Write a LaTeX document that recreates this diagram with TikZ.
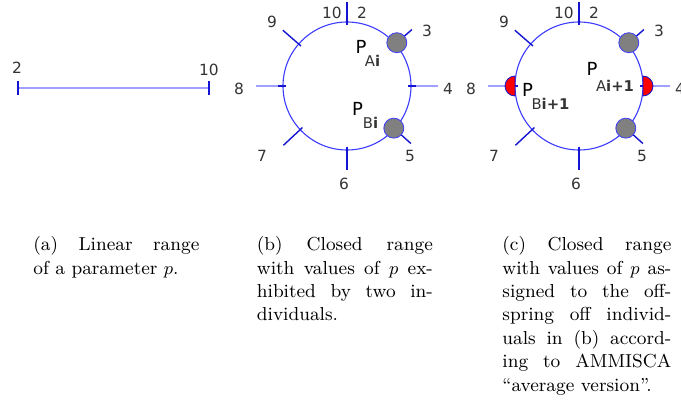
\documentclass[tikz,border=0pt]{standalone}
\usepackage{fontspec}
\newfontfamily\lblfont{DejaVu Sans}
\usepackage{tikz}

\definecolor{ringblue}{RGB}{60,60,255}
\definecolor{tickblue}{RGB}{20,20,210}
\definecolor{lineblue}{RGB}{160,160,255}
\definecolor{dotgray}{RGB}{128,128,128}
\definecolor{numgray}{RGB}{51,51,51}
\definecolor{halfred}{RGB}{255,0,0}

% one stretched caption line
\newcommand{\jline}[2]{\makebox[#1][s]{#2}}

\begin{document}
\begin{tikzpicture}[
  x=0.5pt, y=0.5pt,
  ring/.style={draw=ringblue, line width=0.55pt},
  tickmark/.style={draw=tickblue, line width=0.7pt},
  tickfaint/.style={draw=lineblue, line width=0.7pt},
  num/.style={inner sep=0pt, text=numgray, font=\lblfont\fontsize{7.7}{9}\selectfont},
  pbig/.style={inner sep=0pt, text=black, font=\lblfont\fontsize{9}{10}\selectfont},
  psub/.style={inner sep=0pt, text=numgray, font=\lblfont\fontsize{7.4}{9}\selectfont},
  valdot/.style={circle, fill=dotgray, draw=ringblue, line width=0.4pt, minimum size=10pt, inner sep=0pt},
  halfdisk/.style={fill=halfred, draw=tickblue, line width=0.4pt},
  capt/.style={anchor=base west, inner sep=0pt, align=left, font=\fontsize{9.4}{11.7}\selectfont}
]
\useasboundingbox (0,0) rectangle (681,-406);

% (a) linear range
\coordinate (lo) at (18,-88);
\coordinate (hi) at (209,-88);
\draw[lineblue, line width=1pt] (lo) -- (hi);
\draw[tickmark] ([yshift=-3.5pt]lo) -- ([yshift=3.5pt]lo);
\draw[tickmark] ([yshift=-3.5pt]hi) -- ([yshift=3.5pt]hi);
\node[num] (a2)  at (17,-68)  {2};
\node[num] (a10) at (209,-70) {10};

% (b) and (c) closed ranges
\foreach \cx/\tag in {347/b, 579/c} {
  \begin{scope}[shift={(\cx,-86)}]
    \draw[ring] (0,0) circle[radius=64];
    \foreach \ang/\r in {90/84, 41/86, -42/86, -90/84, -137/87, 139/85}
      \draw[tickmark] (\ang:61) -- (\ang:\r);
    \foreach \ang in {0,180} {
      \draw[tickfaint] (\ang:68) -- (\ang:91);
      \draw[tickmark] (\ang:61) -- (\ang:69);
    }
    \node[valdot] (\tag dotA) at (41:66)  {};
    \node[valdot] (\tag dotB) at (-42:63) {};
    \foreach \t/\px/\py in {10/-15/73, 2/15/73, 9/-75/64, 3/80/55, 8/-108/-3,
                            4/101/-3, 7/-85/-70, 5/63/-70, 6/-3/-98}
      \node[num] (\tag n\t) at (\px,\py) {\t};
  \end{scope}
}

% offspring values in (c)
\begin{scope}[shift={(579,-86)}]
  \filldraw[halfdisk] (64,10) arc[start angle=90, end angle=-90, radius=10] -- cycle;
  \filldraw[halfdisk] (-64,10) arc[start angle=90, end angle=270, radius=10] -- cycle;
\end{scope}

% labels
\node[pbig] (pA)     at (361,-46.5)  {P};
\node[psub] (pAsub)  at (372.5,-60.5) {A\textbf{i}};
\node[pbig] (pB)     at (357.5,-109) {P};
\node[psub] (pBsub)  at (370.5,-123) {B\textbf{i}};
\node[pbig] (pB1)    at (527.5,-90)  {P};
\node[psub] (pB1sub) at (550.5,-104) {B\textbf{i+1}};
\node[pbig] (pA1)    at (592,-68.5)  {P};
\node[psub] (pA1sub) at (615,-86)    {A\textbf{i+1}};

% captions (anchored at the baseline of the last line)
\node[capt] (capA) at (33,-274.1) {\jline{83pt}{(a) Linear range}\\
  of a parameter $p$.};
\node[capt] (capB) at (256.5,-320.9) {\jline{88pt}{(b) Closed range}\\
  \jline{88pt}{with values of $p$ ex-}\\
  \jline{88pt}{hibited by two in-}\\
  dividuals.};
\node[capt] (capC) at (502,-391.1) {\jline{84.5pt}{(c) Closed range}\\
  \jline{84.5pt}{with values of $p$ as-}\\
  \jline{84.5pt}{signed to the off-}\\
  \jline{84.5pt}{spring off individ-}\\
  \jline{84.5pt}{uals in (b) accord-}\\
  \jline{84.5pt}{ing to AMMISCA}\\
  “average version”.};
\end{tikzpicture}
\end{document}
